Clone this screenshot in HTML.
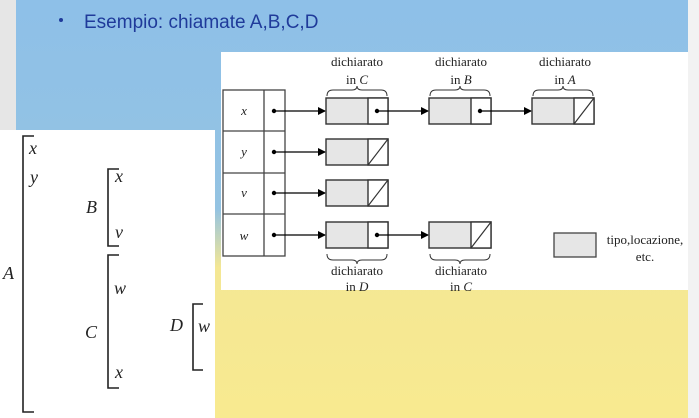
<!DOCTYPE html>
<html><head><meta charset="utf-8"><style>
html,body{margin:0;padding:0;width:699px;height:418px;overflow:hidden}
svg{display:block}
.s{font-family:"Liberation Serif",serif;fill:#222}
.i{font-style:italic}
</style></head><body>
<svg width="699" height="418" viewBox="0 0 699 418">
<defs>
<linearGradient id="bg" x1="0" y1="0" x2="0" y2="1">
<stop offset="0" stop-color="#8ec0e8"/><stop offset="0.5" stop-color="#94c3e2"/>
<stop offset="0.64" stop-color="#f4e794"/><stop offset="1" stop-color="#f8ea90"/></linearGradient>
<marker id="ar" markerWidth="8" markerHeight="8" refX="7" refY="4" orient="auto" markerUnits="userSpaceOnUse"><path d="M0,0L8,4L0,8z" fill="#000"/></marker>
</defs>
<rect width="699" height="418" fill="url(#bg)"/>
<rect x="0" y="0" width="16" height="130" fill="#e6e6e6"/>
<rect x="688" y="0" width="11" height="418" fill="#f2f2f2"/>
<circle cx="61" cy="20" r="2" fill="#1f3a9a"/>
<text x="84" y="28" font-family="Liberation Sans,sans-serif" font-size="19" fill="#1f3a9a">Esempio: chiamate A,B,C,D</text>

<g>
<rect x="0" y="130" width="215" height="288" fill="#fff"/>
<g stroke="#222" stroke-width="1.6" fill="none">
<path d="M34,136H23V412H34"/><path d="M119,169H108V246H119"/><path d="M119,255H108V388H119"/><path d="M203,304H193V370H203"/>
</g>
<g class="s i" font-size="18">
<text x="29" y="154">x</text><text x="30" y="183">y</text><text x="3" y="279">A</text>
<text x="86" y="213">B</text><text x="115" y="182">x</text><text x="115" y="238">v</text>
<text x="85" y="338">C</text><text x="114" y="294">w</text><text x="115" y="378">x</text>
<text x="170" y="331">D</text><text x="198" y="332">w</text>
</g></g>

<g>
<rect x="221" y="52" width="467" height="238" fill="#fff"/>
<g stroke="#444" stroke-width="1.3" fill="none">
<rect x="223" y="90" width="62" height="166"/><line x1="264" y1="90" x2="264" y2="256"/>
<line x1="223" y1="131" x2="285" y2="131"/><line x1="223" y1="173" x2="285" y2="173"/><line x1="223" y1="214" x2="285" y2="214"/>
</g>
<g class="s i" font-size="13" text-anchor="middle">
<text x="244" y="115">x</text><text x="244" y="156">y</text><text x="244" y="197">v</text><text x="244" y="240">w</text>
</g>
<g id="boxes"></g>
<g class="s" font-size="13" text-anchor="middle">
<text x="357" y="66">dichiarato</text><text x="357" y="84">in <tspan class="i">C</tspan></text>
<text x="461" y="66">dichiarato</text><text x="461" y="84">in <tspan class="i">B</tspan></text>
<text x="565" y="66">dichiarato</text><text x="565" y="84">in <tspan class="i">A</tspan></text>
<text x="357" y="275">dichiarato</text><text x="357" y="291">in <tspan class="i">D</tspan></text>
<text x="461" y="275">dichiarato</text><text x="461" y="291">in <tspan class="i">C</tspan></text>
<text x="645" y="244">tipo,locazione,</text><text x="645" y="261">etc.</text>
</g>
<g stroke="#333" fill="none" stroke-width="1">
<path d="M327,96Q327,90 333,90H352Q357,90 357,86Q357,90 362,90H381Q387,90 387,96"/>
<path d="M430,96Q430,90 436,90H455Q460,90 460,86Q460,90 465,90H484Q490,90 490,96"/>
<path d="M533,96Q533,90 539,90H558Q563,90 563,86Q563,90 568,90H587Q593,90 593,96"/>
<path d="M327,254Q327,260 333,260H352Q357,260 357,264Q357,260 362,260H381Q387,260 387,254"/>
<path d="M430,254Q430,260 436,260H455Q460,260 460,264Q460,260 465,260H484Q490,260 490,254"/>
</g>
<rect x="554" y="233" width="42" height="24" fill="#e6e6e6" stroke="#444" stroke-width="1.3"/>
</g>
</svg>
<script>
const cols=[326,429,532];
const rows=[111,152,193,235];
const entries=[[0,0,true],[0,1,true],[0,2,false],[1,0,false],[2,0,false],[3,0,true],[3,1,false]];
const NS="http://www.w3.org/2000/svg";
const g=document.getElementById('boxes');
function mk(t,a){const e=document.createElementNS(NS,t);for(const k in a)e.setAttribute(k,a[k]);g.appendChild(e);return e;}
rows.forEach((y,r)=>{mk('circle',{cx:274,cy:y,r:2.2,fill:'#000'});mk('line',{x1:274,y1:y,x2:cols[0]-1,y2:y,stroke:'#000','stroke-width':1.3,'marker-end':'url(#ar)'});});
entries.forEach(([r,c,next])=>{
 const x=cols[c],y=rows[r]-13;
 const b=mk('rect',{x:x,y:y,width:62,height:26,fill:'#e6e6e6',stroke:'#333','stroke-width':1.4});
 
 
 mk('rect',{x:x+42,y:y,width:20,height:26,fill:'#fff',stroke:'#333','stroke-width':1.4});
 if(next){mk('circle',{cx:x+51,cy:y+13,r:2.2,fill:'#000'});mk('line',{x1:x+51,y1:y+13,x2:cols[c+1]-1,y2:y+13,stroke:'#000','stroke-width':1.3,'marker-end':'url(#ar)'});}
 else mk('line',{x1:x+42,y1:y+26,x2:x+62,y2:y,stroke:'#333','stroke-width':1.2});
});
</script>
</body></html>
